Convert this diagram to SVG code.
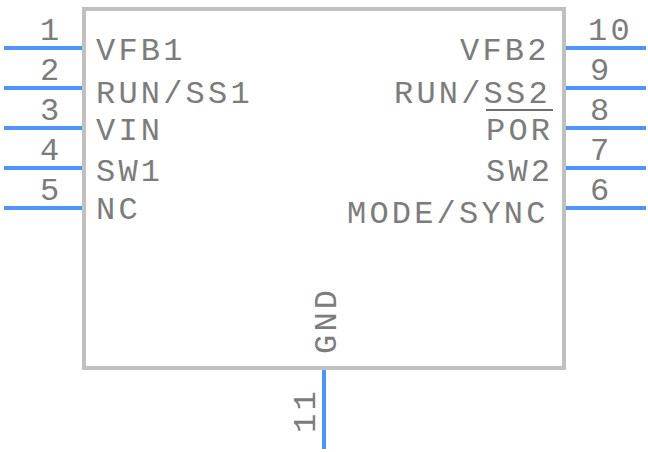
<svg xmlns="http://www.w3.org/2000/svg" width="648" height="452" viewBox="0 0 648 452">
<style>
.b{fill:none;stroke:#c0c0c0;stroke-width:4}
.p{fill:none;stroke:#4d94ff;stroke-width:4}
.o{fill:none;stroke:#6e6e6e;stroke-width:2}
text{font-family:"Liberation Mono",monospace;font-size:32px;letter-spacing:3.2px;fill:#7c7c7c}
</style>
<rect width="648" height="452" fill="#fff"/>
<g id="connectors">
<path class="p" d="M4 48H82M4 88H82M4 128H82M4 168H82M4 208H82M566 48H646M566 88H646M566 128H646M566 168H646M566 208H646M324 370V449"/>
</g>
<g id="body"><rect class="b" x="84" y="9" width="480" height="359"/></g>
<g id="p1"><text x="40" y="40">1</text><text x="96" y="60">VFB1</text></g>
<g id="p2"><text x="40" y="80">2</text><text x="96" y="103">RUN/SS1</text></g>
<g id="p3"><text x="40" y="120">3</text><text x="96" y="140">VIN</text></g>
<g id="p4"><text x="40" y="160">4</text><text x="96" y="181">SW1</text></g>
<g id="p5"><text x="40" y="200">5</text><text x="96" y="219">NC</text></g>
<g id="p10"><text x="588" y="40">10</text><text x="460" y="60">VFB2</text></g>
<g id="p9"><text x="590" y="80">9</text><text x="394" y="103">RUN/SS2</text></g>
<g id="p8"><text x="590" y="120">8</text><text x="486" y="140">POR</text><path class="o" d="M486 110H553"/></g>
<g id="p7"><text x="590" y="160">7</text><text x="486" y="181">SW2</text></g>
<g id="p6"><text x="590" y="200">6</text><text x="347" y="223">MODE/SYNC</text></g>
<g id="p11"><text transform="translate(315 433) rotate(-90)">11</text><text transform="translate(336 354) rotate(-90)">GND</text></g>
</svg>
